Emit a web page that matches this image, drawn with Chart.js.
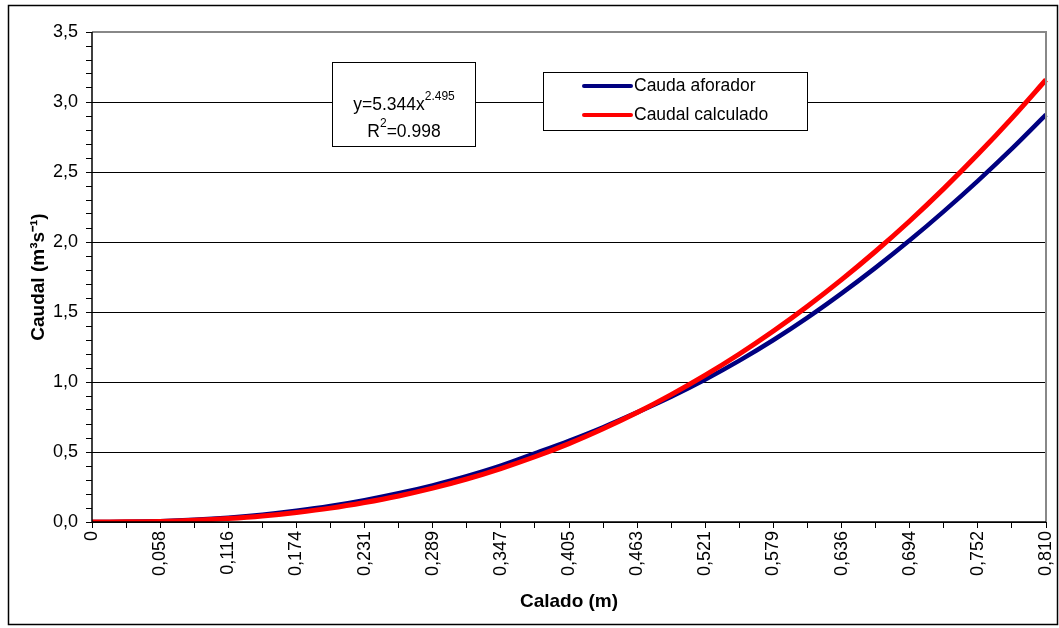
<!DOCTYPE html>
<html>
<head>
<meta charset="utf-8">
<script src="https://cdn.jsdelivr.net/npm/chart.js@4/dist/chart.umd.min.js"></script>
<style>
  html, body { margin: 0; padding: 0; background: #fff; overflow: hidden; }
  #myChart { display: block; }
</style>
</head>
<body>
<canvas id="myChart" width="1059" height="628"></canvas>
<script>
// calado (m) labels, one per point, only every 2nd one is shown
var calado = ["0", "0,029", "0,058", "0,087", "0,116", "0,145", "0,174", "0,203", "0,231", "0,260",
    "0,289", "0,318", "0,347", "0,376", "0,405", "0,434", "0,463", "0,492", "0,521", "0,550",
    "0,579", "0,608", "0,636", "0,665", "0,694", "0,723", "0,752", "0,781", "0,810"];

var caudaAforador = [0, 0.001, 0.006, 0.016, 0.031, 0.052, 0.080, 0.114, 0.156, 0.205,
    0.262, 0.327, 0.402, 0.490, 0.580, 0.677, 0.783, 0.895, 1.018, 1.153,
    1.300, 1.460, 1.633, 1.817, 2.012, 2.219, 2.437, 2.667, 2.910];
var caudalCalculado = [0, 0.001, 0.004, 0.012, 0.025, 0.043, 0.068, 0.099, 0.139, 0.186,
    0.242, 0.307, 0.382, 0.466, 0.560, 0.666, 0.782, 0.910, 1.049, 1.200,
    1.364, 1.541, 1.731, 1.934, 2.150, 2.381, 2.626, 2.885, 3.159];

var ecuacion = "y=5.344x";
var exponente = "2.495";
var r2 = "=0.998";

var FONT = "'Liberation Sans', Arial, sans-serif";

var marco = {
    id: 'marco',
    beforeDraw: function (chart) {
        var c = chart.ctx;
        c.save();
        c.fillStyle = '#fff';
        c.fillRect(0, 0, chart.width, chart.height);
        c.strokeStyle = '#000';
        c.lineWidth = 1.5;
        c.strokeRect(8.5, 5.5, 1049, 619);
        c.restore();
    },
    afterDatasetsDraw: function (chart) {
        var c = chart.ctx, a = chart.chartArea;
        c.save();
        // plot border
        c.strokeStyle = '#888';
        c.lineWidth = 2;
        c.beginPath();
        c.moveTo(a.left, a.top);
        c.lineTo(a.right, a.top);
        c.lineTo(a.right, a.bottom);
        c.stroke();
        c.strokeStyle = '#000';
        c.lineWidth = 1.5;
        c.beginPath();
        c.moveTo(a.left, a.top);
        c.lineTo(a.left, a.bottom);
        c.lineTo(a.right, a.bottom);
        c.stroke();

        // equation box
        c.fillStyle = '#fff';
        c.fillRect(332, 62, 143, 84);
        c.strokeStyle = '#000';
        c.lineWidth = 1;
        c.strokeRect(332.5, 62.5, 143, 84);
        c.fillStyle = '#000';
        c.textBaseline = 'alphabetic';
        c.font = '17.5px ' + FONT;
        var w1 = c.measureText(ecuacion).width;
        c.font = '12px ' + FONT;
        var w2 = c.measureText(exponente).width;
        var x0 = 404 - (w1 + w2) / 2;
        c.font = '17.5px ' + FONT;
        c.fillText(ecuacion, x0, 110);
        c.font = '12px ' + FONT;
        c.fillText(exponente, x0 + w1, 100);
        c.font = '17.5px ' + FONT;
        var w3 = c.measureText('R').width, w4 = c.measureText(r2).width;
        c.font = '12px ' + FONT;
        var w5 = c.measureText('2').width;
        var x1 = 404 - (w3 + w4 + w5) / 2;
        c.font = '17.5px ' + FONT;
        c.fillText('R', x1, 137);
        c.fillText(r2, x1 + w3 + w5, 137);
        c.font = '12px ' + FONT;
        c.fillText('2', x1 + w3, 127);

        // legend box
        c.fillStyle = '#fff';
        c.fillRect(543, 72, 264, 58);
        c.strokeStyle = '#000';
        c.strokeRect(543.5, 72.5, 264, 58);
        c.lineCap = 'round';
        var items = [[chart.data.datasets[0], 86], [chart.data.datasets[1], 115]];
        items.forEach(function (it) {
            c.strokeStyle = it[0].borderColor;
            c.lineWidth = 4;
            c.beginPath();
            c.moveTo(584, it[1]);
            c.lineTo(631, it[1]);
            c.stroke();
            c.fillStyle = '#000';
            c.font = '17.5px ' + FONT;
            c.textBaseline = 'middle';
            c.fillText(it[0].label, 634, it[1]);
        });
        c.restore();
    }
};

var ctx = document.getElementById('myChart').getContext('2d');
var chart = new Chart(ctx, {
    type: 'line',
    data: {
        labels: calado,
        datasets: [{
            label: 'Cauda aforador',
            data: caudaAforador,
            borderColor: '#000080',
            backgroundColor: '#000080',
            borderWidth: 4.5,
            pointRadius: 0,
            tension: 0.3,
            order: 1
        }, {
            label: 'Caudal calculado',
            data: caudalCalculado,
            borderColor: '#ff0000',
            backgroundColor: '#ff0000',
            borderWidth: 5,
            pointRadius: 0,
            tension: 0.3,
            order: 0
        }]
    },
    options: {
        responsive: false,
        animation: false,
        devicePixelRatio: 1,
        layout: { padding: { left: 0, top: 32, right: 13, bottom: 0 } },
        plugins: { legend: { display: false }, tooltip: { enabled: false } },
        scales: {
            x: {
                type: 'category',
                offset: false,
                border: { display: false },
                grid: { drawOnChartArea: false, color: '#000', tickLength: 6, lineWidth: 1 },
                ticks: {
                    autoSkip: false,
                    maxRotation: 90,
                    minRotation: 90,
                    padding: 3,
                    color: '#000',
                    font: { family: FONT, size: 18 },
                    callback: function (v, i) { return i % 2 === 0 ? calado[i] : ''; }
                },
                title: {
                    display: true,
                    text: 'Calado (m)',
                    color: '#000',
                    font: { family: FONT, size: 19, weight: 'bold' },
                    padding: { top: 0, bottom: 15 }
                },
                afterFit: function (s) { s.height = 106; s.paddingRight = 0; s.paddingLeft = 0; }
            },
            y: {
                min: 0,
                max: 3.5,
                border: { display: false },
                grid: {
                    tickLength: 6,
                    tickColor: '#000',
                    color: function (c) {
                        if (!c.tick) return 'rgba(0,0,0,0)';
                        var v = Math.round(c.tick.value * 10);
                        if (v === 35) return '#888';
                        return v % 5 === 0 ? '#000' : 'rgba(0,0,0,0)';
                    }
                },
                ticks: {
                    stepSize: 0.1,
                    autoSkip: false,
                    padding: 8,
                    color: '#000',
                    font: { family: FONT, size: 18 },
                    callback: function (v) {
                        var t = Math.round(v * 10);
                        return t % 5 === 0 ? (t / 10).toFixed(1).replace('.', ',') : '';
                    }
                },
                title: {
                    display: true,
                    text: 'Caudal (m³s⁻¹)',
                    color: '#000',
                    font: { family: FONT, size: 19, weight: 'bold' },
                    padding: { top: 27, bottom: 0 }
                },
                afterFit: function (s) { s.width = 92; s.paddingTop = 0; s.paddingBottom = 0; }
            }
        }
    },
    plugins: [marco]
});
</script>
</body>
</html>
